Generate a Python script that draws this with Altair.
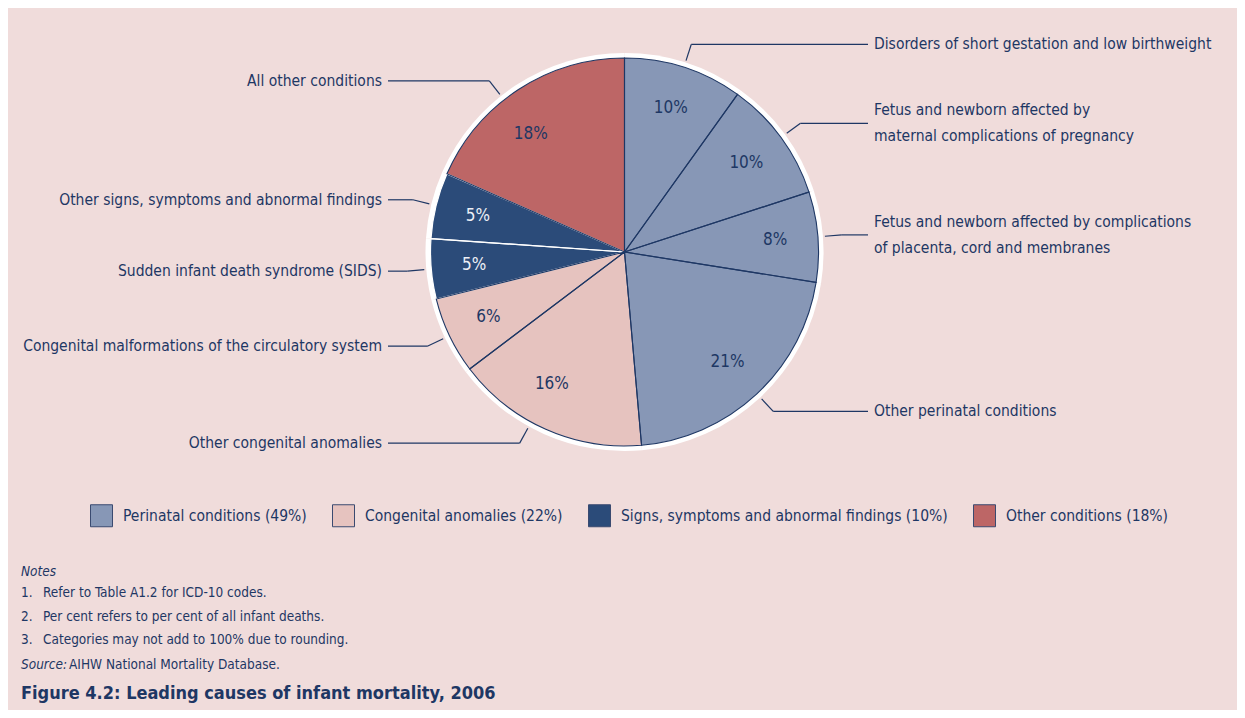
import altair as alt
import pandas as pd

# ---------------- data ----------------
causes = [
    "Disorders of short gestation and low birthweight",
    "Fetus and newborn affected by\nmaternal complications of pregnancy",
    "Fetus and newborn affected by complications\nof placenta, cord and membranes",
    "Other perinatal conditions",
    "Other congenital anomalies",
    "Congenital malformations of the circulatory system",
    "Sudden infant death syndrome (SIDS)",
    "Other signs, symptoms and abnormal findings",
    "All other conditions",
]
values = [9.9, 10.1, 7.5, 21.1, 16.1, 6.4, 5.0, 5.5, 18.4]
pct_labels = ["10%", "10%", "8%", "21%", "16%", "6%", "5%", "5%", "18%"]
group_names = [
    "Perinatal conditions (49%)",
    "Congenital anomalies (22%)",
    "Signs, symptoms and abnormal findings (10%)",
    "Other conditions (18%)",
]
cause_group = [0, 0, 0, 0, 1, 1, 2, 2, 3]
group_colors = ["#8797b6", "#e6c3bf", "#2b4b79", "#bd6666"]

note_numbers = ["1.", "2.", "3."]
note_lines = [
    "Refer to Table A1.2 for ICD-10 codes.",
    "Per cent refers to per cent of all infant deaths.",
    "Categories may not add to 100% due to rounding.",
]
notes_head = "Notes"
source_head = "Source:"
source_text = "AIHW National Mortality Database."
title_text = "Figure 4.2: Leading causes of infant mortality, 2006"

# ---------------- layout / style ----------------
W, H = 1229, 702
BG = "#f0dcdb"
NAVY = "#1e3764"
FONT = "DejaVu Sans Condensed, Liberation Sans Narrow, sans-serif"
LABEL_SIZE = 15.5
NOTE_SIZE = 13.5
LINE_H = 26
CX, CY = 616.5, 244
R_PIE, R_RING, R_PCT, R_L0, R_L1 = 194, 199, 151, 201, 218
X_LINE_R, X_LINE_L, GAP = 860, 380, 6
label_nudge_deg = [0, 0, 0, 0, 4.8, 0, 0, 0, -5.2]
SIGNS = group_names[2]

df = pd.DataFrame({
    "idx": list(range(len(causes))),
    "cause": causes,
    "value": values,
    "pct": pct_labels,
    "group": [group_names[g] for g in cause_group],
    "nudge": label_nudge_deg,
})

base = alt.Chart(df)
theta = alt.Theta("value:Q", stack=True)
order = alt.Order("idx:Q")
pos = dict(x=alt.value(CX), y=alt.value(CY))

ring = base.mark_arc(radius=R_RING, fill="white").encode(theta=theta, order=order, **pos)

slices = base.mark_arc(radius=R_PIE).encode(
    theta=theta, order=order, **pos,
    color=alt.Color(
        "group:N",
        scale=alt.Scale(domain=group_names, range=group_colors),
        legend=alt.Legend(
            orient="none", legendX=82, legendY=496, direction="horizontal",
            title=None, symbolType="square", symbolSize=484,
            symbolStrokeColor="#3a4a70", symbolStrokeWidth=1, symbolOpacity=1,
            labelFont=FONT, labelFontSize=LABEL_SIZE, labelColor=NAVY, labelLimit=0,
            labelOffset=10, columnPadding=23,
        ),
    ),
)

white_edges = base.mark_arc(radius=R_PIE, fillOpacity=0, stroke="white", strokeWidth=1.2).encode(
    theta=theta, order=order, **pos,
    strokeOpacity=alt.condition(alt.datum.group == SIGNS, alt.value(1), alt.value(0)),
)
navy_edges = base.mark_arc(radius=R_PIE, fillOpacity=0, stroke=NAVY, strokeWidth=1.1).encode(
    theta=theta, order=order, **pos,
    strokeOpacity=alt.condition(alt.datum.group == SIGNS, alt.value(0), alt.value(1)),
)

geo = (
    base.transform_joinaggregate(total="sum(value)")
    .transform_window(cum="sum(value)", sort=[alt.SortField("idx")], frame=[None, 0])
    .transform_calculate(
        ang="((datum.cum - datum.value/2)/datum.total*360 + datum.nudge)*PI/180"
    )
    .transform_calculate(
        px=f"{CX} + {R_PCT}*sin(datum.ang)",
        py=f"{CY} - {R_PCT}*cos(datum.ang)",
        sx=f"{CX} + {R_L0}*sin(datum.ang)",
        sy=f"{CY} - {R_L0}*cos(datum.ang)",
        bx=f"{CX} + {R_L1}*sin(datum.ang)",
        by=f"{CY} - {R_L1}*cos(datum.ang)",
        right="datum.ang < PI",
    )
    .transform_calculate(
        ex=f"datum.right ? {X_LINE_R} : {X_LINE_L}",
        tx=f"datum.right ? {X_LINE_R + GAP} : {X_LINE_L - GAP}",
        ty=f"datum.by - (indexof(datum.cause, '\\n') >= 0 ? {LINE_H / 2} : 0)",
    )
)

def P(f):
    return alt.X(f + ":Q", scale=None)

def Q(f):
    return alt.Y(f + ":Q", scale=None)

pct_text = geo.mark_text(font=FONT, fontSize=17, baseline="middle", align="center").encode(
    x=P("px"), y=Q("py"), text="pct:N",
    color=alt.condition(alt.datum.group == SIGNS, alt.value("#eef0f6"), alt.value(NAVY)),
)

lead1 = geo.mark_rule(color=NAVY, strokeWidth=1.2).encode(
    x=P("sx"), y=Q("sy"), x2="bx:Q", y2="by:Q"
)
lead2 = geo.mark_rule(color=NAVY, strokeWidth=1.2).encode(
    x=P("bx"), y=Q("by"), x2="ex:Q", y2="by:Q"
)

lab_r = geo.transform_filter("datum.right").mark_text(
    font=FONT, fontSize=LABEL_SIZE, align="left", baseline="middle", lineBreak="\n",
    lineHeight=LINE_H, color=NAVY,
).encode(x=P("tx"), y=Q("ty"), text="cause:N")
lab_l = geo.transform_filter("!datum.right").mark_text(
    font=FONT, fontSize=LABEL_SIZE, align="right", baseline="middle", lineBreak="\n",
    lineHeight=LINE_H, color=NAVY,
).encode(x=P("tx"), y=Q("ty"), text="cause:N")

# notes block
notes_df = pd.DataFrame({"i": list(range(len(note_lines))), "num": note_numbers, "line": note_lines})
nb = alt.Chart(notes_df).transform_calculate(ny="585 + datum.i*23.5")
note_nums = nb.mark_text(font=FONT, fontSize=NOTE_SIZE, align="left", baseline="middle", color=NAVY).encode(
    x=alt.value(13), y=Q("ny"), text="num:N")
note_txt = nb.mark_text(font=FONT, fontSize=NOTE_SIZE, align="left", baseline="middle", color=NAVY).encode(
    x=alt.value(35), y=Q("ny"), text="line:N")

one = alt.Chart(pd.DataFrame({"a": [0]}))
notes_h = one.mark_text(font=FONT, fontSize=NOTE_SIZE, fontStyle="italic", align="left",
                        baseline="middle", color=NAVY, text=notes_head).encode(
    x=alt.value(13), y=alt.value(564))
src_h = one.mark_text(font=FONT, fontSize=NOTE_SIZE, fontStyle="italic", align="left",
                      baseline="middle", color=NAVY, text=source_head).encode(
    x=alt.value(13), y=alt.value(657))
src_t = one.mark_text(font=FONT, fontSize=NOTE_SIZE, align="left",
                      baseline="middle", color=NAVY, text=source_text).encode(
    x=alt.value(61), y=alt.value(657))
title = one.mark_text(font=FONT, fontSize=18, fontWeight="bold", align="left",
                      baseline="middle", color=NAVY, text=title_text).encode(
    x=alt.value(13), y=alt.value(686))

chart = alt.layer(
    ring, slices, white_edges, navy_edges, pct_text, lead1, lead2, lab_r, lab_l,
    note_nums, note_txt, notes_h, src_h, src_t, title,
).properties(
    width=W, height=H, background=BG, padding=0, autosize="none"
).configure_view(stroke=None)

chart.save("out.html", embed_options={"renderer": "svg", "actions": False})
